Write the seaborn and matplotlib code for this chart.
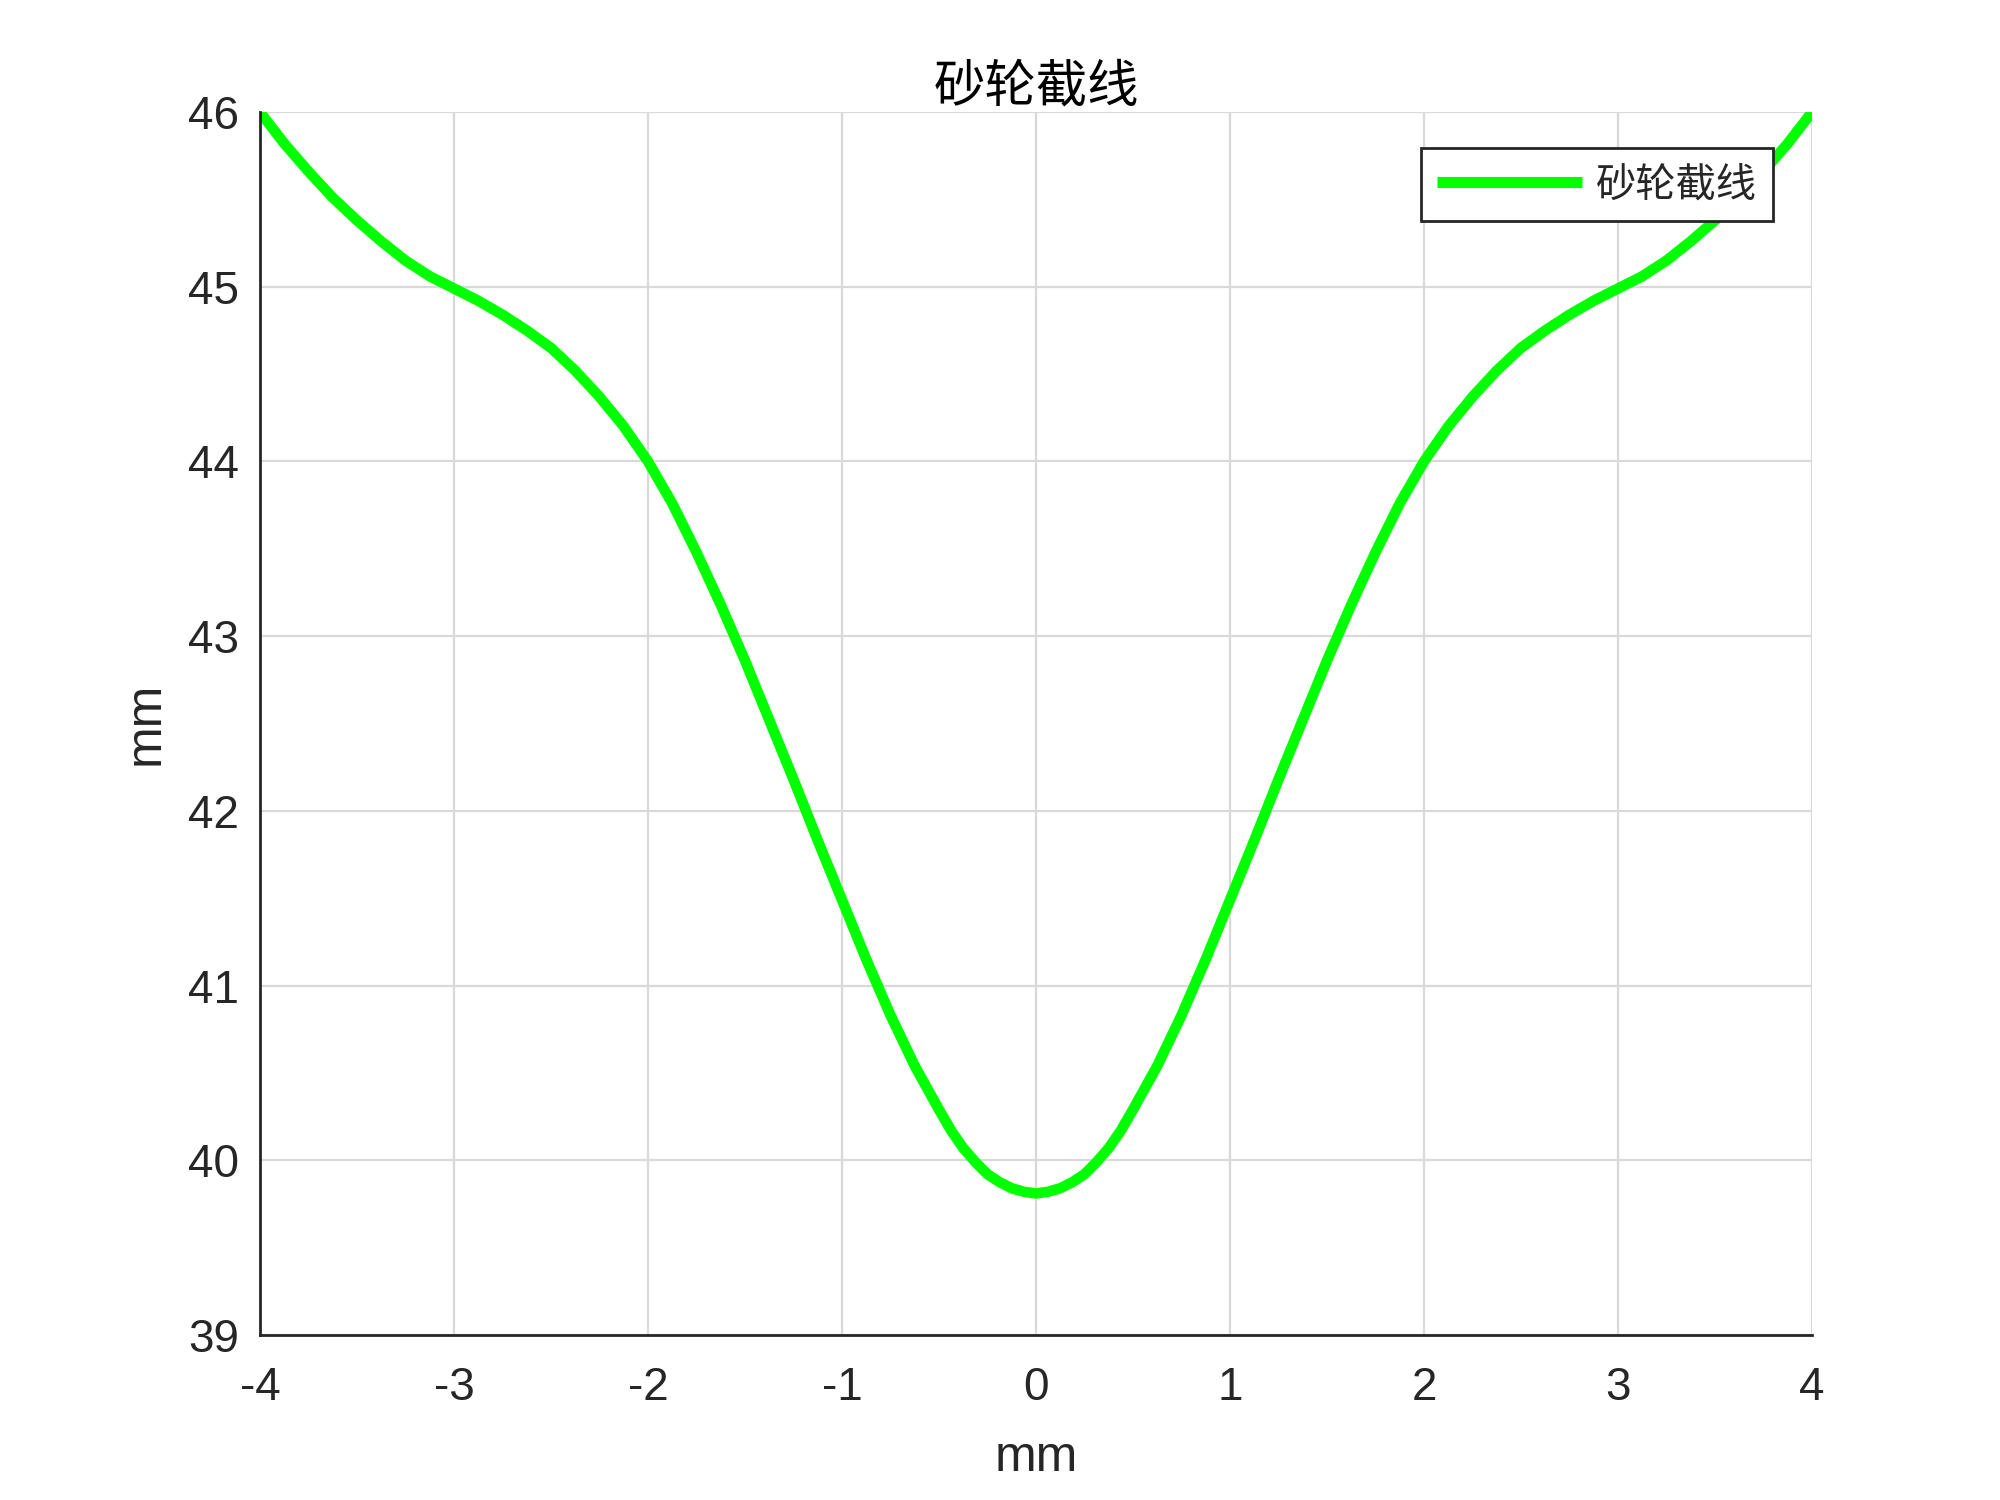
import numpy as np
import pandas as pd
import matplotlib
matplotlib.use("Agg")
import matplotlib.pyplot as plt
import seaborn as sns

# ---- data ----
x_mm = [-4.000, -3.875, -3.750, -3.625, -3.500, -3.375, -3.250, -3.125, -3.000,
        -2.875, -2.750, -2.625, -2.500, -2.375, -2.250, -2.125, -2.000,
        -1.875, -1.750, -1.625, -1.500, -1.375, -1.250, -1.125, -1.000,
        -0.875, -0.750, -0.625, -0.500, -0.4375, -0.375, -0.3125, -0.250,
        -0.1875, -0.125, -0.0625, 0.000, 0.0625, 0.125, 0.1875,
        0.250, 0.3125, 0.375, 0.4375, 0.500, 0.625, 0.750, 0.875, 1.000,
        1.125, 1.250, 1.375, 1.500, 1.625, 1.750, 1.875, 2.000,
        2.125, 2.250, 2.375, 2.500, 2.625, 2.750, 2.875, 3.000,
        3.125, 3.250, 3.375, 3.500, 3.625, 3.750, 3.875, 4.000]
y_mm = [46.00, 45.82, 45.66, 45.51, 45.38, 45.26, 45.15, 45.06, 44.99,
        44.92, 44.84, 44.75, 44.65, 44.52, 44.37, 44.20, 44.00,
        43.76, 43.48, 43.18, 42.86, 42.52, 42.18, 41.83, 41.49,
        41.15, 40.83, 40.54, 40.29, 40.17, 40.07, 39.99, 39.92,
        39.875, 39.84, 39.82, 39.81, 39.82, 39.84, 39.875,
        39.92, 39.99, 40.07, 40.17, 40.29, 40.54, 40.83, 41.15, 41.49,
        41.83, 42.18, 42.52, 42.86, 43.18, 43.48, 43.76, 44.00,
        44.20, 44.37, 44.52, 44.65, 44.75, 44.84, 44.92, 44.99,
        45.06, 45.15, 45.26, 45.38, 45.51, 45.66, 45.82, 46.00]
x_ticks = [-4, -3, -2, -1, 0, 1, 2, 3, 4]
y_ticks = [39, 40, 41, 42, 43, 44, 45, 46]
series_name = "砂轮截线"
title_text = "砂轮截线"
x_label = "mm"
y_label = "mm"

df = pd.DataFrame({"x": x_mm, "y": y_mm, "series": series_name})

sns.set_style("white")
plt.rcParams["font.family"] = ["Liberation Sans", "Noto Sans CJK SC", "DejaVu Sans"]
cjk = ["Noto Sans CJK SC", "DejaVu Sans"]

fig = plt.figure(figsize=(10, 7.5), dpi=200)
ax = fig.add_axes([0.13, 0.11, 0.776, 0.8153])

sns.lineplot(data=df, x="x", y="y", hue="series", palette=["#00FF00"],
             linewidth=3.8, sort=False, ax=ax, legend=True)
for ln in ax.get_lines():
    ln.set_solid_joinstyle("round")
    ln.set_solid_capstyle("round")

ax.set_xlim(-4, 4)
ax.set_ylim(39, 46)
ax.set_xticks(x_ticks)
ax.set_yticks(y_ticks)
ax.set_xticklabels([str(t) for t in x_ticks])
ax.set_yticklabels([str(t) for t in y_ticks])

ax.grid(True, color="#d9d9d9", linewidth=0.8)
ax.set_axisbelow(True)

for s in ["top", "right"]:
    ax.spines[s].set_visible(False)
for s in ["left", "bottom"]:
    ax.spines[s].set_color("#262626")
    ax.spines[s].set_linewidth(1.0)

ax.tick_params(axis="both", direction="in", length=5.5, width=1.0,
               color="#262626", labelcolor="#262626", labelsize=16.5)
ax.tick_params(axis="x", pad=11)
ax.tick_params(axis="y", pad=7.5)

ax.set_xlabel(x_label, fontsize=18, color="#262626", labelpad=9)
ax.set_ylabel(y_label, fontsize=18, color="#262626", labelpad=7)
ax.set_title(title_text, fontsize=18.5, family=cjk, color="#000000", pad=4)

leg = ax.legend(loc="upper right", bbox_to_anchor=(0.975, 0.9706),
                frameon=True, fancybox=False, framealpha=1,
                edgecolor="#262626", prop={"family": cjk, "size": 14.5},
                handlelength=3.6, borderpad=0.4, handletextpad=0.35,
                borderaxespad=0)
leg.get_frame().set_linewidth(1.0)
for h in leg.get_lines():
    h.set_linewidth(4.0)
    h.set_solid_capstyle("butt")

fig.savefig("out.png", dpi=200, facecolor="white")
